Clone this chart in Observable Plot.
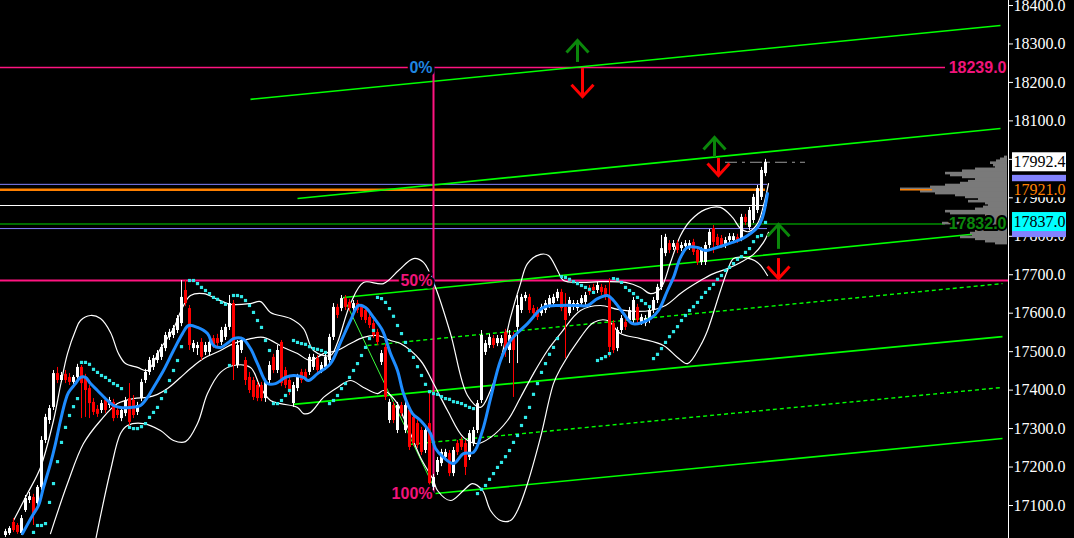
<!DOCTYPE html>
<html><head><meta charset="utf-8">
<script src="https://cdn.jsdelivr.net/npm/d3@7"></script>
<script src="https://cdn.jsdelivr.net/npm/@observablehq/plot@0.6"></script>
<style>html,body{margin:0;padding:0;background:#000;overflow:hidden}</style>
</head><body>
<script>
// ---------------- DATA ----------------
const open = [17022,17027,17056,17048,17027,17087,17113,17121,17105,17147,
17269,17321,17355,17443,17425,17441,17433,17420,17433,17459,
17433,17404,17368,17350,17347,17373,17360,17368,17347,17326,
17339,17378,17373,17342,17378,17425,17446,17459,17477,17485,
17508,17537,17542,17555,17573,17659,17612,17508,17508,17524,
17498,17498,17534,17534,17524,17537,17563,17625,17464,17503,
17477,17433,17425,17412,17412,17378,17425,17485,17451,17524,
17451,17425,17365,17404,17446,17446,17446,17459,17482,17451,
17459,17477,17537,17615,17612,17638,17628,17612,17625,17615,
17607,17589,17573,17550,17472,17511,17321,17360,17295,17360,
17295,17347,17329,17313,17295,17243,17313,17147,17186,17209,
17225,17235,17183,17261,17269,17261,17225,17261,17295,17373,
17498,17516,17534,17521,17521,17550,17503,17542,17563,17607,
17638,17641,17612,17607,17599,17607,17620,17625,17638,17654,
17615,17599,17615,17612,17625,17628,17664,17667,17659,17667,
17664,17641,17573,17508,17555,17576,17581,17581,17615,17576,
17573,17581,17607,17633,17667,17755,17781,17771,17781,17768,
17773,17771,17784,17763,17732,17732,17776,17820,17797,17794,
17776,17789,17789,17797,17794,17849,17823,17841,17867,17901,
17963];
const close = [17032,17040,17035,17030,17066,17118,17123,17074,17147,17269,
17329,17352,17443,17425,17438,17425,17420,17433,17459,17417,
17399,17365,17342,17337,17365,17347,17373,17326,17334,17347,
17373,17316,17334,17360,17420,17446,17477,17482,17495,17511,
17542,17550,17560,17586,17641,17625,17516,17521,17516,17485,
17516,17524,17516,17521,17555,17563,17625,17464,17516,17529,
17425,17399,17381,17378,17378,17420,17464,17451,17503,17417,
17412,17394,17412,17433,17425,17430,17485,17485,17451,17464,
17485,17537,17615,17594,17638,17615,17612,17625,17607,17589,
17581,17568,17542,17524,17495,17381,17368,17321,17360,17339,
17360,17251,17261,17256,17238,17295,17157,17173,17217,17238,
17238,17183,17243,17238,17251,17199,17287,17295,17365,17542,
17521,17537,17516,17534,17534,17503,17542,17503,17620,17641,
17646,17607,17599,17589,17615,17625,17638,17641,17654,17612,
17581,17633,17625,17625,17638,17646,17654,17659,17672,17654,
17641,17511,17503,17555,17586,17563,17607,17633,17581,17589,
17586,17607,17633,17667,17768,17797,17763,17781,17763,17776,
17781,17781,17758,17732,17763,17776,17810,17784,17776,17776,
17789,17799,17799,17789,17849,17836,17867,17901,17924,17971,
17992.4];
const high = [17038,17045,17066,17053,17074,17126,17134,17129,17152,17279,
17337,17360,17451,17459,17446,17451,17443,17438,17467,17464,
17441,17412,17378,17360,17373,17381,17381,17376,17357,17352,
17381,17417,17386,17368,17428,17454,17485,17490,17503,17519,
17550,17558,17568,17594,17685,17685,17620,17529,17524,17534,
17524,17534,17542,17545,17563,17571,17646,17633,17529,17537,
17485,17446,17433,17420,17420,17428,17474,17493,17516,17529,
17459,17433,17420,17441,17454,17454,17493,17493,17490,17472,
17493,17545,17625,17623,17646,17646,17636,17633,17633,17623,
17615,17597,17581,17558,17503,17519,17376,17368,17368,17368,
17368,17355,17337,17321,17303,17303,17391,17181,17225,17246,
17246,17243,17251,17269,17277,17269,17295,17303,17373,17555,
17529,17545,17542,17542,17542,17558,17555,17550,17646,17649,
17654,17649,17620,17615,17623,17633,17646,17649,17662,17662,
17651,17641,17633,17633,17646,17654,17672,17675,17680,17675,
17672,17690,17581,17563,17594,17584,17615,17641,17623,17597,
17594,17615,17641,17675,17802,17805,17789,17789,17789,17784,
17789,17789,17792,17771,17771,17784,17818,17828,17805,17802,
17797,17807,17807,17805,17857,17857,17875,17909,17932,17979,
18000];
const low = [17017,17022,17030,17025,17022,17082,17105,17048,17097,17139,
17261,17311,17347,17417,17420,17417,17412,17415,17428,17326,
17329,17326,17334,17329,17339,17339,17352,17318,17326,17318,
17331,17303,17326,17334,17370,17417,17438,17451,17469,17477,
17500,17529,17534,17547,17565,17617,17503,17498,17490,17477,
17490,17490,17508,17513,17516,17529,17555,17425,17456,17495,
17412,17391,17373,17370,17370,17368,17417,17443,17443,17409,
17404,17386,17355,17396,17417,17422,17438,17451,17443,17443,
17451,17469,17529,17586,17604,17607,17604,17604,17599,17581,
17573,17560,17534,17516,17464,17373,17313,17313,17287,17331,
17287,17243,17253,17248,17230,17235,17149,17139,17178,17201,
17217,17175,17175,17230,17243,17178,17217,17253,17287,17365,
17490,17508,17508,17513,17513,17485,17469,17381,17469,17599,
17630,17599,17592,17581,17592,17599,17612,17617,17630,17604,
17482,17592,17607,17604,17617,17620,17646,17651,17651,17646,
17633,17485,17495,17500,17547,17555,17573,17573,17573,17568,
17565,17573,17599,17625,17659,17747,17755,17763,17755,17760,
17766,17763,17750,17724,17724,17724,17768,17755,17768,17768,
17768,17781,17781,17781,17786,17828,17815,17833,17859,17893,
17955];

// Moving average (blue), [bar, price]
const maLine = [[4.25,17027],[6.75,17074],[8.25,17100],[9.5,17147],[11.25,17209],[12.5,17261],[13.75,17321],[15,17373],[15.75,17394],[17.5,17417],
[18.75,17433],[20,17433],[21.25,17417],[23,17399],[25.5,17373],[27,17360],[28.75,17355],[31.25,17355],[33.75,17360],[35.5,17381],
[37,17407],[39.5,17451],[42,17503],[44.25,17547],[45.75,17568],[48,17563],[50.5,17547],[52,17516],[53.75,17511],[55.75,17524],
[57,17534],[59.25,17534],[61.25,17508],[63,17469],[65.5,17417],[67.5,17417],[70,17433],[72,17438],[74.5,17433],[75.75,17425],
[78,17443],[81.25,17469],[83.75,17524],[86.25,17581],[88.25,17620],[90,17615],[92,17589],[94.25,17555],[96.25,17495],[98,17451],
[99.5,17391],[101.75,17339],[103.75,17321],[106.25,17287],[107.5,17248],[109.5,17225],[112,17209],[114.5,17235],[117,17238],[119.25,17295],
[121.25,17378],[123.75,17477],[126.25,17529],[130.5,17573],[134.5,17615],[138.75,17620],[143,17620],[145.5,17620],[148,17638],[150.5,17646],
[152,17633],[154.5,17599],[156.75,17573],[159.25,17576],[161.25,17586],[163.25,17607],[165.5,17659],[167,17693],[168.75,17745],[170.5,17771],
[173,17771],[175,17763],[177,17768],[179.5,17776],[181.75,17784],[184.25,17794],[186.25,17807],[188,17823],[189.25,17849],[190.5,17911]];

// Bollinger bands, [bar, price]
const bbUpper = [[2,17061],[5.5,17131],[8.75,17199],[12,17321],[13.75,17412],[15.5,17495],[17.5,17555],[18.75,17581],[21.25,17594],[23.75,17586],[26.25,17550],[28.25,17495],[30,17469],[33,17459],[35.5,17451],[38.75,17508],[42,17560],[44.25,17615],[46.25,17646],[49.5,17651],[53,17636],[56.25,17623],[61.25,17625],[63.75,17630],[66.25,17602],[71.25,17586],[74.5,17560],[77,17503],[81.25,17490],[83,17524],[86.25,17625],[89.5,17680],[94.5,17677],[98.25,17711],[102,17742],[104.5,17732],[107.5,17667],[111.25,17547],[115.5,17386],[118.75,17355],[121.25,17399],[123.75,17477],[126.25,17589],[128.75,17677],[130.5,17729],[133.75,17753],[135.75,17750],[138,17711],[139.5,17685],[143.75,17680],[148.75,17682],[155,17680],[158.75,17667],[161.25,17651],[163.75,17664],[166.25,17732],[168.75,17802],[171.25,17841],[175,17870],[178.75,17875],[181.75,17849],[183.75,17820],[185.75,17812],[188,17833],[189.5,17880],[190.75,17937]];
const bbMiddle = [[11.25,17027],[15.5,17157],[19.5,17261],[23.75,17321],[28,17365],[32,17378],[35.5,17381],[38,17389],[40.5,17404],[43.75,17433],[46.25,17456],[49.5,17482],[53.75,17503],[57,17521],[60.5,17532],[64.5,17537],[69.5,17511],[73,17495],[76.25,17477],[79.5,17495],[83,17503],[86.25,17521],[89.5,17537],[93,17542],[96.25,17529],[98.75,17521],[103.75,17477],[107,17417],[110.5,17347],[114.5,17277],[118,17261],[121.25,17277],[125.5,17321],[128.75,17381],[132,17443],[135.5,17503],[138.75,17547],[143.75,17607],[148.75,17620],[153,17610],[157,17605],[161.25,17607],[165,17620],[168.75,17651],[170.5,17664],[173.75,17685],[177,17703],[180.5,17716],[183.75,17732],[187,17753],[189.5,17784],[190.75,17810]];
const bbLower = [[22.5,17009],[26.25,17191],[28.75,17287],[30.5,17308],[34.5,17313],[38.75,17295],[42,17269],[45,17266],[48,17313],[50.5,17391],[53.75,17446],[57,17464],[61.25,17459],[63.75,17407],[66.25,17373],[68.75,17365],[73,17355],[74.5,17339],[76.25,17342],[79.5,17381],[83,17407],[86.25,17425],[89.5,17407],[93,17391],[94.5,17399],[98,17365],[99.5,17329],[101.25,17287],[103.75,17225],[107,17165],[108,17139],[111.25,17113],[114.5,17139],[116.75,17157],[119.25,17139],[121.25,17087],[123.75,17061],[126.25,17061],[128,17087],[130.5,17157],[133.75,17277],[137,17417],[138.75,17456],[143.75,17537],[147,17576],[150.5,17581],[153.75,17547],[158.75,17534],[164.5,17516],[168,17485],[170.5,17469],[173.75,17516],[175.5,17555],[178.75,17659],[180.5,17711],[182,17742],[184.5,17745],[188,17732],[190.5,17698]];

// Parabolic SAR, one value per bar (null = none)
const sar = [null,null,null,null,null,null,null,
17030,17048,17048,17053,17108,17157,17214,17264,17303,17334,17357,17378,
17472,17472,17467,17454,17446,17438,17433,17425,17417,17412,17404,
null,
17303,17300,17300,17305,17313,17329,17342,17355,17378,17396,17425,17451,17477,17513,
null,
17685,17685,17677,17667,17659,17651,17641,17636,17628,17623,
17464,
17646,17646,17643,17633,17620,17602,17581,17563,17529,17503,
17365,17365,17373,17386,17399,
17529,17524,17521,17519,17513,17508,17506,17503,17498,
17365,17373,17386,17404,17417,17433,17451,17469,17490,17511,17534,17555,
17641,17638,17628,17612,17592,17568,17547,17524,17503,17485,17461,17438,17415,17396,17391,17389,17383,17378,17376,17370,17368,17365,17360,17355,17352,
17131,17142,17152,17168,17183,17199,17212,17227,17243,17264,17282,17308,17329,17355,17389,17417,17446,17469,17493,17511,17534,
17695,17693,17688,17682,17677,17672,17667,17662,17654,
17477,17482,17487,17495,
17690,17688,17680,17667,17659,17651,17641,17633,17625,17617,
17482,17493,17508,17524,17539,17552,17565,17581,17594,17607,17617,17628,17641,17654,17664,17675,17688,17698,17711,17719,17729,17740,17747,17758,17768,17786,17799,17802,17836];

// Channel lines: [bar1, price1, bar2, price2, dashed]
const channels = [
  [61.25,18156,248.75,18348,false],
  [73,17898,248.75,18080,false],
  [84.5,17641,249.25,17813,false],
  [90.5,17516,249.25,17677,true],
  [72,17363,249.25,17539,false],
  [101.25,17259,249.25,17407,true],
  [107.5,17131,249.25,17274,false]
];
const swingLine = [[84.5,17641],[106.75,17155]];

// Fibonacci
const fibBar = 107, fibTop = 18239, fibBottom = 17131;
const fibLevels = [0, 0.5, 1];
const fibLabels = ["0%", "50%", "100%"];

// Horizontal levels
const levelPrices = [18239, 17935, 17921, 17880, 17832, 17820];
const levelEnds   = [235, 190.5, 190, 190.5, 235, 190.5];

// Arrows [bar, tail, tip]
const upArrows   = [[143,18252,18309],[177.25,18005,18057],[193.25,17766,17831]];
const downArrows = [[144.25,18236,18163],[178.25,18002,17958],[193.25,17742,17690]];

// Volume profile
const vpPrice = [18005,18000,17995,17990,17984,17979,17974,17969,17963,17958,17953,17948,17942,17937,17932,17927,17922,17916,17911,17906,17901,17896,17890,17885,17880,17875,17870,17864,17859,17854,17849,17844,17838,17833,17828,17823,17818,17812,17807,17802,17797,17792,17786,17781];
const vpVol   = [3,7,11,17,14,12,32,45,62,57,45,32,39,47,62,77,107,87,72,52,42,29,39,22,19,24,32,62,57,22,17,32,47,65,17,7,22,32,37,35,47,32,22,12];

// Axis & price tags
const yTicks = d3.range(17100, 18401, 100);
const lastPrice = 17992.4, bidTag = 17837, pocTag = 17921, lav1 = 17935, lav2 = 17820;

// ---------------- CHART ----------------
const N = close.length;
const bars = d3.range(N).map(i => ({i, o: open[i], h: high[i], l: low[i], c: close[i], col: close[i] >= open[i] ? "#ffffff" : "#ff0000"}));
const xMin = -1.25, xMax = 250.75;
const pink = "#ff1480", green = "#00ff00", dkGreen = "#0b870b", lav = "#8282ff", orange = "#ff8000", cyan = "#30e8e8";

const levelStyle = [
  {stroke: pink, w: 1.5}, {stroke: lav, w: 1}, {stroke: orange, w: 2.6},
  {stroke: "#ffffff", w: 1.2}, {stroke: "#009000", w: 1.5}, {stroke: lav, w: 1}
];
const levels = levelPrices.map((p, k) => ({p, end: levelEnds[k], ...levelStyle[k]}));
const fib = fibLevels.map((f, k) => ({p: fibTop - f * (fibTop - fibBottom), label: fibLabels[k], col: k === 0 ? "#1f86e0" : "#f0147a"}));
const ch = channels.map(([a, b, c, d, dash]) => ({x1: a, y1: b, x2: c, y2: d, dash}));
const sarPts = sar.map((v, i) => ({i, v})).filter(d => d.v != null);
const profRight = xMax - 0.25;
const prof = vpPrice.map((p, k) => ({p, x1: profRight - vpVol[k] / 4}));
const pocX1 = profRight - d3.max(vpVol) / 4;
const ups = upArrows.map(([x, t, h]) => ({x, t, h}));
const downs = downArrows.map(([x, t, h]) => ({x, t, h}));
const upHead = {draw(c) { c.moveTo(-11, 12); c.lineTo(0, 0); c.lineTo(11, 12); }};
const downHead = {draw(c) { c.moveTo(-11, -12); c.lineTo(0, 0); c.lineTo(11, -12); }};

const lavTags = [lav1, lav2];
const pocTags = [{p: pocTag, t: pocTag.toFixed(1)}];
const boxTags = [
  {p: lastPrice, bg: "#ffffff", t: lastPrice.toFixed(1)},
  {p: bidTag, bg: "#00ffff", t: bidTag.toFixed(1)}
];

const serif = "Liberation Serif", sans = "Liberation Sans";

const chart = Plot.plot({
  width: 1074, height: 538,
  marginLeft: 0, marginRight: 66, marginTop: 0, marginBottom: 0,
  style: {background: "#000", color: "#fff"},
  x: {domain: [xMin, xMax], axis: null},
  y: {domain: [17014.2, 18413], axis: null},
  color: {type: "identity"},
  marks: [
    // horizontal levels
    Plot.ruleY(levels, {y: "p", x1: xMin, x2: "end", stroke: "stroke", strokeWidth: "w"}),
    Plot.ruleY(fib.filter((d, k) => k === 1), {y: "p", x1: xMin, x2: xMax, stroke: pink, strokeWidth: 2}),
    // channels
    Plot.link(ch.filter(d => !d.dash), {x1: "x1", y1: "y1", x2: "x2", y2: "y2", stroke: green, strokeWidth: 1.6}),
    Plot.link(ch.filter(d => d.dash), {x1: "x1", y1: "y1", x2: "x2", y2: "y2", stroke: green, strokeWidth: 1.4, strokeDasharray: "4,3"}),
    Plot.line(swingLine, {x: d => d[0], y: d => d[1], stroke: "#3cff3c", strokeWidth: 1}),
    // fib vertical
    Plot.ruleX([fibBar], {y1: fibTop, y2: fibBottom, stroke: pink, strokeWidth: 2}),
    // bollinger
    Plot.line(bbUpper, {x: d => d[0], y: d => d[1], stroke: "#fff", strokeWidth: 1.2, curve: "catmull-rom"}),
    Plot.line(bbMiddle, {x: d => d[0], y: d => d[1], stroke: "#fff", strokeWidth: 1.2, curve: "catmull-rom"}),
    Plot.line(bbLower, {x: d => d[0], y: d => d[1], stroke: "#fff", strokeWidth: 1.2, curve: "catmull-rom"}),
    // candles
    Plot.ruleX(bars, {x: "i", y1: "l", y2: "h", stroke: "col", strokeWidth: 1}),
    Plot.ruleX(bars, {x: "i", y1: "o", y2: "c", stroke: "col", strokeWidth: 3}),
    // MA
    Plot.line(maLine, {x: d => d[0], y: d => d[1], stroke: "#1e8cff", strokeWidth: 3, curve: "catmull-rom"}),
    // SAR
    Plot.dot(sarPts, {x: "i", y: "v", symbol: "square", r: 1.8, fill: cyan, stroke: null}),
    // volume profile
    Plot.rect(prof, {x1: "x1", x2: profRight, y1: "p", y2: "p", insetTop: -1.3, insetBottom: -1.3, fill: "#7a7a7a"}),
    Plot.ruleY([pocTag], {x1: pocX1, x2: pocX1 + 8, stroke: orange, strokeWidth: 1.5}),
    // last price dash line
    Plot.ruleY([lastPrice], {x1: N - 1 - 10, x2: N - 1 + 10, stroke: "#9a9a9a", strokeWidth: 1, strokeDasharray: "12,5,3,5"}),
    // arrows
    Plot.ruleX(ups, {x: "x", y1: "t", y2: "h", stroke: dkGreen, strokeWidth: 3}),
    Plot.dot(ups, {x: "x", y: "h", symbol: upHead, fill: "none", stroke: dkGreen, strokeWidth: 3}),
    Plot.ruleX(downs, {x: "x", y1: "t", y2: "h", stroke: "#ff0000", strokeWidth: 3}),
    Plot.dot(downs, {x: "x", y: "h", symbol: downHead, fill: "none", stroke: "#ff0000", strokeWidth: 3}),
    // labels
    Plot.text(fib, {x: fibBar, y: "p", text: "label", textAnchor: "end", dx: -1, fill: "col", fontSize: 16, fontWeight: "bold", fontFamily: sans, stroke: "#000", strokeWidth: 5, paintOrder: "stroke"}),
    Plot.text([{p: 18239, t: "18239.0", c: "#f0147a"}, {p: 17832, t: "17832.0", c: dkGreen}], {x: xMax, y: "p", text: "t", textAnchor: "end", dx: -2, fill: "c", fontSize: 16, fontWeight: "bold", fontFamily: sans, stroke: "#000", strokeWidth: 4, paintOrder: "stroke"}),
    // axis
    Plot.axisY(yTicks, {anchor: "right", tickSize: 4, tickPadding: 1, tickFormat: d => d.toFixed(1), fontSize: 16, fontFamily: serif, color: "#fff"}),
    Plot.ruleX([xMax], {stroke: "#fff", strokeWidth: 1}),
    // price tags on axis
    Plot.rect(lavTags, {x1: xMax, x2: xMax, y1: d => d, y2: d => d, insetLeft: 4, insetRight: -58, insetTop: -9, insetBottom: -9, fill: lav}),
    Plot.rect(pocTags, {x1: xMax, x2: xMax, y1: "p", y2: "p", insetLeft: 4, insetRight: -58, insetTop: -8, insetBottom: -8, fill: "#000"}),
    Plot.text(pocTags, {x: xMax, y: "p", text: "t", dx: 5, textAnchor: "start", fill: orange, fontSize: 16, fontFamily: serif}),
    Plot.rect(boxTags, {x1: xMax, x2: xMax, y1: "p", y2: "p", insetLeft: 4, insetRight: -58, insetTop: -9.5, insetBottom: -9.5, fill: "bg"}),
    Plot.text(boxTags, {x: xMax, y: "p", text: "t", dx: 5, textAnchor: "start", fill: "#000", fontSize: 16, fontFamily: serif})
  ]
});
document.body.appendChild(chart);
</script>
</body></html>
